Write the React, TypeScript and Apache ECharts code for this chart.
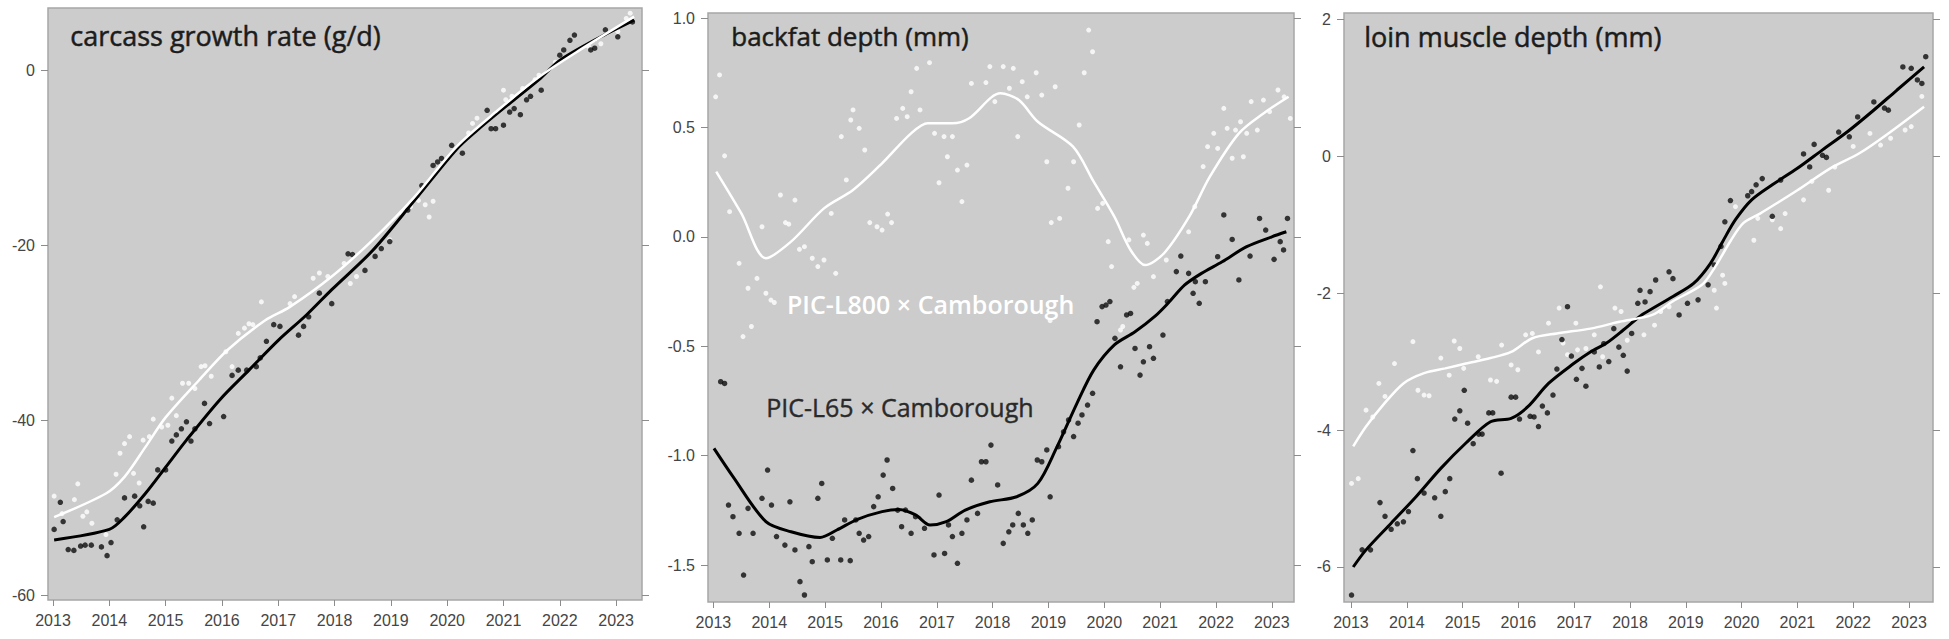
import React, { useEffect, useRef } from "react";
import * as echarts from "echarts";

// ---------- tick labels ----------
const yearTicks = [2013, 2014, 2015, 2016, 2017, 2018, 2019, 2020, 2021, 2022, 2023];
const cgrTicks = [-60, -40, -20, 0];
const bfTicks = [-1.5, -1.0, -0.5, 0.0, 0.5, 1.0];
const lmTicks = [-6, -4, -2, 0, 2];

// ---------- titles / labels ----------
const titles = ["carcass growth rate (g/d)", "backfat depth (mm)", "loin muscle depth (mm)"];
const labelL800 = "PIC-L800 × Camborough";
const labelL65 = "PIC-L65 × Camborough";

// ---------- carcass growth rate ----------
const cgrL65Pts = [
  [2013.02, -52.5], [2013.13, -49.4], [2013.18, -51.6], [2013.27, -54.8], [2013.37, -54.9], [2013.49, -54.4],
  [2013.57, -54.3], [2013.68, -54.3], [2013.86, -54.5], [2013.96, -55.5], [2014.03, -54.0], [2014.14, -51.4],
  [2014.27, -48.9], [2014.45, -48.7], [2014.54, -49.8], [2014.61, -52.2], [2014.69, -49.3], [2014.78, -49.5],
  [2014.86, -45.7], [2015.0, -45.7], [2015.11, -42.4], [2015.19, -41.7], [2015.28, -41.0], [2015.37, -40.2],
  [2015.45, -42.4], [2015.52, -41.0], [2015.69, -38.1], [2015.78, -40.4], [2016.03, -39.6], [2016.18, -34.9],
  [2016.29, -34.3], [2016.44, -34.3], [2016.61, -33.9], [2016.68, -32.9], [2016.79, -31.0], [2016.92, -29.1],
  [2017.03, -29.3], [2017.36, -30.3], [2017.45, -29.3], [2017.54, -28.2], [2017.73, -25.5], [2017.95, -26.7],
  [2018.24, -21.0], [2018.32, -21.1], [2018.54, -22.9], [2018.72, -21.3], [2018.83, -20.4], [2018.98, -19.6],
  [2019.3, -16.0], [2019.55, -13.2], [2019.75, -10.9], [2019.83, -10.5], [2019.9, -10.1], [2020.08, -8.6],
  [2020.27, -9.5], [2020.71, -4.6], [2020.78, -6.7], [2020.86, -6.7], [2021.0, -6.3], [2021.11, -4.8],
  [2021.19, -4.4], [2021.3, -5.1], [2021.41, -3.4], [2021.48, -3.0], [2021.67, -2.3], [2022.0, 1.7],
  [2022.07, 2.3], [2022.18, 3.4], [2022.26, 4.0], [2022.55, 2.3], [2022.62, 2.5], [2022.81, 4.6],
  [2023.03, 3.8], [2023.29, 5.5],
];
const cgrL800Pts = [
  [2013.02, -48.7], [2013.16, -50.7], [2013.38, -49.1], [2013.44, -47.3], [2013.53, -51.0], [2013.6, -50.5],
  [2013.69, -51.8], [2013.94, -53.1], [2014.12, -46.2], [2014.19, -43.8], [2014.27, -42.7], [2014.36, -41.9],
  [2014.43, -46.1], [2014.53, -47.2], [2014.6, -42.3], [2014.71, -41.9], [2014.78, -39.9], [2014.93, -40.8],
  [2015.04, -40.6], [2015.11, -37.5], [2015.19, -39.5], [2015.3, -35.8], [2015.41, -35.8], [2015.52, -36.4],
  [2015.63, -33.9], [2015.7, -33.8], [2015.81, -35.0], [2016.07, -32.2], [2016.18, -33.9], [2016.29, -30.1],
  [2016.4, -29.5], [2016.48, -29.0], [2016.55, -29.1], [2016.7, -26.5], [2017.21, -26.7], [2017.29, -25.9],
  [2017.62, -23.8], [2017.73, -23.2], [2017.88, -23.6], [2018.17, -22.1], [2018.28, -24.4], [2018.39, -23.6],
  [2018.98, -19.4], [2019.2, -16.4], [2019.35, -15.6], [2019.49, -14.9], [2019.61, -15.4], [2019.68, -16.8],
  [2019.75, -15.0], [2020.38, -7.2], [2020.45, -6.1], [2020.53, -5.5], [2021.0, -2.3], [2021.04, -3.4],
  [2021.15, -3.0], [2021.34, -2.1], [2021.56, -1.1], [2021.63, -0.6], [2021.92, 0.9], [2022.51, 2.7],
  [2022.73, 3.0], [2023.03, 4.4], [2023.18, 5.9], [2023.25, 6.5],
];
const cgrL65Trend = [
  [2013.02, -53.7], [2014.0, -52.5], [2014.27, -51.1], [2014.64, -48.4], [2015.0, -45.4], [2015.37, -42.3],
  [2015.96, -37.7], [2016.48, -34.3], [2017.0, -30.9], [2017.5, -28.0], [2017.95, -25.1], [2018.68, -20.6],
  [2019.42, -14.9], [2020.16, -9.1], [2020.53, -6.9], [2020.9, -4.9], [2021.63, -1.1], [2022.0, 1.1],
  [2022.73, 3.8], [2023.32, 5.7],
];
const cgrL800Trend = [
  [2013.02, -51.1], [2013.94, -48.4], [2014.27, -46.5], [2014.64, -43.1], [2015.0, -39.7], [2015.6, -35.4],
  [2016.1, -32.0], [2016.77, -28.6], [2017.2, -27.1], [2017.95, -23.6], [2018.68, -19.4], [2019.42, -14.5],
  [2020.16, -8.8], [2020.9, -4.6], [2021.63, -0.8], [2022.36, 2.3], [2023.32, 6.1],
];

// ---------- backfat depth ----------
const bfL65Pts = [
  [2013.13, -0.662], [2013.2, -0.67], [2013.27, -1.226], [2013.35, -1.279], [2013.46, -1.355], [2013.54, -1.546],
  [2013.62, -1.241], [2013.71, -1.355], [2013.87, -1.195], [2013.97, -1.066], [2014.04, -1.226], [2014.13, -1.37],
  [2014.28, -1.409], [2014.37, -1.211], [2014.46, -1.431], [2014.55, -1.576], [2014.63, -1.637], [2014.71, -1.416],
  [2014.77, -1.485], [2014.87, -1.195], [2014.94, -1.127], [2015.04, -1.477], [2015.13, -1.378], [2015.28, -1.477],
  [2015.35, -1.294], [2015.45, -1.48], [2015.55, -1.294], [2015.61, -1.355], [2015.69, -1.386], [2015.78, -1.37],
  [2015.87, -1.233], [2015.95, -1.188], [2016.04, -1.089], [2016.11, -1.02], [2016.21, -1.15], [2016.3, -1.249],
  [2016.37, -1.325], [2016.44, -1.249], [2016.54, -1.355], [2016.62, -1.279], [2016.78, -1.332], [2016.95, -1.454],
  [2017.04, -1.18], [2017.14, -1.447], [2017.21, -1.317], [2017.28, -1.37], [2017.37, -1.492], [2017.45, -1.355],
  [2017.54, -1.294], [2017.62, -1.112], [2017.73, -1.264], [2017.8, -1.028], [2017.88, -1.028], [2017.97, -0.952],
  [2018.09, -1.134], [2018.19, -1.401], [2018.29, -1.348], [2018.36, -1.317], [2018.46, -1.264], [2018.55, -1.317],
  [2018.63, -1.355], [2018.71, -1.294], [2018.8, -1.02], [2018.88, -1.028], [2018.97, -0.974], [2019.03, -1.188],
  [2019.18, -0.959], [2019.27, -0.891], [2019.36, -0.837], [2019.45, -0.913], [2019.53, -0.852], [2019.6, -0.814],
  [2019.7, -0.769], [2019.79, -0.715], [2019.87, -0.388], [2019.96, -0.319], [2020.03, -0.312], [2020.1, -0.296],
  [2020.19, -0.464], [2020.29, -0.594], [2020.4, -0.357], [2020.47, -0.35], [2020.55, -0.51], [2020.64, -0.632],
  [2020.7, -0.571], [2020.81, -0.502], [2020.88, -0.555], [2021.05, -0.449], [2021.13, -0.296], [2021.29, -0.159],
  [2021.37, -0.088], [2021.51, -0.167], [2021.59, -0.258], [2021.63, -0.205], [2021.7, -0.304], [2021.81, -0.205],
  [2022.03, -0.091], [2022.14, 0.1], [2022.29, -0.012], [2022.41, -0.197], [2022.61, -0.088], [2022.78, 0.084],
  [2022.89, 0.031], [2023.04, -0.103], [2023.15, -0.022], [2023.21, -0.06], [2023.28, 0.084],
];
const bfL800Pts = [
  [2013.04, 0.64], [2013.11, 0.74], [2013.2, 0.37], [2013.29, 0.115], [2013.46, -0.121], [2013.53, -0.456],
  [2013.62, -0.235], [2013.68, -0.41], [2013.78, -0.19], [2013.87, 0.046], [2013.94, -0.258], [2014.03, -0.289],
  [2014.09, -0.3], [2014.2, 0.191], [2014.29, 0.065], [2014.35, 0.058], [2014.46, 0.168], [2014.54, -0.057],
  [2014.63, -0.045], [2014.77, -0.098], [2014.87, -0.136], [2014.98, -0.106], [2015.11, 0.107], [2015.19, -0.167],
  [2015.29, 0.458], [2015.38, 0.26], [2015.46, 0.534], [2015.5, 0.58], [2015.61, 0.496], [2015.71, 0.397],
  [2015.8, 0.065], [2015.93, 0.046], [2016.02, 0.031], [2016.12, 0.104], [2016.19, 0.065], [2016.28, 0.541],
  [2016.39, 0.587], [2016.47, 0.549], [2016.54, 0.663], [2016.64, 0.77], [2016.7, 0.58], [2016.87, 0.796],
  [2016.96, 0.473], [2017.04, 0.247], [2017.13, 0.458], [2017.19, 0.366], [2017.28, 0.458], [2017.37, 0.305],
  [2017.45, 0.161], [2017.54, 0.328], [2017.62, 0.701], [2017.88, 0.705], [2017.95, 0.778], [2018.04, 0.618],
  [2018.19, 0.778], [2018.3, 0.679], [2018.37, 0.77], [2018.45, 0.458], [2018.53, 0.709], [2018.62, 0.64],
  [2018.78, 0.75], [2018.88, 0.648], [2018.97, 0.343], [2019.03, -0.383], [2019.05, 0.065], [2019.12, 0.686],
  [2019.2, 0.084], [2019.35, 0.222], [2019.45, 0.343], [2019.55, 0.511], [2019.64, 0.75], [2019.72, 0.945],
  [2019.79, 0.846], [2019.88, 0.13], [2019.97, 0.153], [2020.07, -0.022], [2020.13, -0.136], [2020.29, -0.426],
  [2020.33, -0.41], [2020.44, -0.014], [2020.53, -0.231], [2020.59, -0.213], [2020.7, 0.008], [2020.77, -0.03],
  [2020.88, -0.182], [2021.11, -0.106], [2021.51, 0.023], [2021.62, 0.138], [2021.77, 0.321], [2021.85, 0.412],
  [2021.96, 0.473], [2022.03, 0.404], [2022.14, 0.587], [2022.2, 0.496], [2022.29, 0.359], [2022.35, 0.488],
  [2022.44, 0.526], [2022.49, 0.366], [2022.55, 0.473], [2022.63, 0.618], [2022.74, 0.488], [2022.85, 0.625],
  [2022.96, 0.572], [2023.11, 0.671], [2023.22, 0.64], [2023.33, 0.541],
];
const bfL65Trend = [
  [2013.01, -0.967], [2013.35, -1.096], [2013.94, -1.302], [2014.39, -1.348], [2014.91, -1.374], [2015.21, -1.34],
  [2015.58, -1.291], [2016.02, -1.256], [2016.32, -1.246], [2016.62, -1.271], [2016.88, -1.317], [2017.17, -1.302],
  [2017.51, -1.249], [2017.95, -1.211], [2018.43, -1.188], [2018.81, -1.127], [2019.14, -0.967], [2019.51, -0.761],
  [2019.81, -0.609], [2020.18, -0.494], [2020.55, -0.434], [2020.92, -0.36], [2021.14, -0.304], [2021.44, -0.22],
  [2021.74, -0.167], [2022.11, -0.114], [2022.55, -0.045], [2023.0, 0.0], [2023.26, 0.023],
];
const bfL800Trend = [
  [2013.05, 0.298], [2013.5, 0.107], [2013.94, -0.098], [2014.39, -0.022], [2014.98, 0.13], [2015.5, 0.214],
  [2016.02, 0.336], [2016.54, 0.473], [2016.84, 0.519], [2017.28, 0.519], [2017.58, 0.542], [2018.14, 0.656],
  [2018.47, 0.625], [2018.81, 0.526], [2019.44, 0.412], [2019.81, 0.252], [2020.18, 0.092], [2020.47, -0.06],
  [2020.73, -0.129], [2021.07, -0.075], [2021.52, 0.092], [2021.89, 0.275], [2022.41, 0.473], [2022.85, 0.564],
  [2023.3, 0.64],
];

// ---------- loin muscle depth ----------
const lmL65Pts = [
  [2013.01, -6.41], [2013.2, -5.75], [2013.35, -5.75], [2013.52, -5.06], [2013.61, -5.26], [2013.72, -5.45],
  [2013.83, -5.37], [2013.94, -5.34], [2014.03, -5.19], [2014.11, -4.3], [2014.19, -4.71], [2014.31, -4.92],
  [2014.5, -4.99], [2014.61, -5.26], [2014.69, -4.9], [2014.77, -4.71], [2014.86, -3.84], [2014.95, -3.72],
  [2015.03, -3.42], [2015.09, -3.9], [2015.19, -4.2], [2015.29, -4.06], [2015.35, -4.06], [2015.47, -3.75],
  [2015.54, -3.75], [2015.69, -4.63], [2015.87, -3.52], [2015.95, -3.52], [2016.02, -3.84], [2016.21, -3.8],
  [2016.28, -3.81], [2016.36, -3.95], [2016.43, -3.65], [2016.52, -3.75], [2016.62, -3.49], [2016.69, -3.11],
  [2016.78, -2.68], [2016.88, -2.2], [2016.95, -2.92], [2017.04, -3.26], [2017.14, -3.1], [2017.21, -3.36],
  [2017.36, -2.86], [2017.45, -3.08], [2017.53, -2.74], [2017.62, -3.0], [2017.71, -2.52], [2017.8, -2.79],
  [2017.88, -2.91], [2017.95, -3.14], [2018.03, -2.59], [2018.14, -2.15], [2018.18, -1.96], [2018.27, -2.13],
  [2018.36, -1.98], [2018.46, -1.81], [2018.7, -1.69], [2018.77, -1.79], [2018.88, -2.32], [2019.03, -2.15],
  [2019.22, -2.1], [2019.4, -1.88], [2019.51, -1.59], [2019.63, -1.32], [2019.7, -0.96], [2019.8, -0.65],
  [2020.11, -0.58], [2020.18, -0.52], [2020.26, -0.42], [2020.37, -0.33], [2020.55, -0.88], [2020.7, -0.35],
  [2021.11, 0.03], [2021.22, -0.16], [2021.3, 0.17], [2021.45, 0.01], [2021.52, -0.02], [2021.74, 0.35],
  [2021.93, 0.28], [2022.08, 0.57], [2022.37, 0.79], [2022.56, 0.7], [2022.63, 0.67], [2022.89, 1.3],
  [2023.04, 1.28], [2023.15, 1.11], [2023.23, 1.06], [2023.3, 1.45],
];
const lmL800Pts = [
  [2013.01, -4.78], [2013.13, -4.71], [2013.27, -3.71], [2013.39, -3.81], [2013.5, -3.32], [2013.61, -3.51],
  [2013.78, -3.03], [2014.11, -2.71], [2014.2, -3.42], [2014.31, -3.49], [2014.4, -3.5], [2014.61, -2.95],
  [2014.76, -3.2], [2014.85, -2.7], [2014.95, -2.81], [2015.02, -3.1], [2015.28, -2.93], [2015.5, -3.27],
  [2015.61, -3.29], [2015.7, -2.76], [2015.87, -3.05], [2015.99, -3.12], [2016.13, -2.61], [2016.25, -2.59],
  [2016.36, -2.86], [2016.54, -2.44], [2016.73, -2.22], [2016.8, -2.73], [2016.88, -2.9], [2017.03, -2.44],
  [2017.06, -2.83], [2017.21, -2.81], [2017.36, -2.61], [2017.47, -1.91], [2017.51, -2.93], [2017.73, -2.22],
  [2017.84, -2.27], [2017.95, -2.69], [2018.25, -2.61], [2018.44, -2.47], [2018.55, -2.27], [2018.7, -2.2],
  [2019.51, -1.96], [2019.55, -2.22], [2019.66, -1.74], [2019.7, -1.86], [2019.89, -0.74], [2020.22, -1.23],
  [2020.29, -0.91], [2020.55, -0.93], [2020.7, -1.06], [2020.78, -0.84], [2021.11, -0.64], [2021.26, -0.37],
  [2021.56, -0.5], [2021.67, -0.16], [2022.0, 0.14], [2022.3, 0.33], [2022.49, 0.16], [2022.67, 0.26],
  [2022.93, 0.38], [2023.04, 0.43], [2023.23, 0.87],
];
const lmL65Trend = [
  [2013.04, -6.0], [2013.27, -5.75], [2013.72, -5.36], [2014.17, -4.97], [2014.61, -4.56], [2015.06, -4.19],
  [2015.5, -3.88], [2015.87, -3.83], [2016.17, -3.66], [2016.54, -3.32], [2016.99, -3.03], [2017.29, -2.86],
  [2017.58, -2.73], [2017.88, -2.54], [2018.1, -2.39], [2018.25, -2.3], [2018.77, -2.05], [2019.14, -1.86],
  [2019.44, -1.57], [2019.66, -1.25], [2019.89, -0.93], [2020.18, -0.64], [2020.55, -0.42], [2021.0, -0.18],
  [2021.45, 0.09], [2021.89, 0.35], [2022.34, 0.65], [2022.78, 0.96], [2023.27, 1.3],
];
const lmL800Trend = [
  [2013.04, -4.24], [2013.27, -3.95], [2013.57, -3.64], [2013.94, -3.32], [2014.31, -3.17], [2014.69, -3.1],
  [2015.06, -3.03], [2015.5, -2.95], [2015.87, -2.86], [2016.25, -2.66], [2016.69, -2.59], [2017.29, -2.52],
  [2017.81, -2.42], [2018.4, -2.32], [2018.77, -2.12], [2019.29, -1.88], [2019.51, -1.64], [2019.81, -1.23],
  [2020.03, -0.98], [2020.33, -0.84], [2020.63, -0.69], [2021.0, -0.5], [2021.59, -0.18], [2022.11, 0.04],
  [2022.63, 0.33], [2023.27, 0.72],
];

// ---------- layout ----------
const panels = [
  { left: 48, top: 8, width: 594, height: 592, xMin: 2012.911, xMax: 2023.46, yMin: -60.57, yMax: 7.09,
    yTicks: cgrTicks, dec: 0, l65: cgrL65Pts, l800: cgrL800Pts, t65: cgrL65Trend, t800: cgrL800Trend },
  { left: 708, top: 13, width: 586, height: 589, xMin: 2012.903, xMax: 2023.397, yMin: -1.669, yMax: 1.023,
    yTicks: bfTicks, dec: 1, l65: bfL65Pts, l800: bfL800Pts, t65: bfL65Trend, t800: bfL800Trend },
  { left: 1344, top: 13, width: 589, height: 589, xMin: 2012.875, xMax: 2023.43, yMin: -6.511, yMax: 2.088,
    yTicks: lmTicks, dec: 0, l65: lmL65Pts, l800: lmL800Pts, t65: lmL65Trend, t800: lmL800Trend },
];

const W = 1949;
const H = 639;
const axisFont = { fontFamily: "'Liberation Sans', Arial, sans-serif", fontSize: 16, color: "#454545" };
const tickColor = "#8c8c8c";

function buildOption() {
  const grid: any[] = [];
  const xAxis: any[] = [];
  const yAxis: any[] = [];
  const series: any[] = [];
  panels.forEach((p, i) => {
    const g = i * 2;
    // plotting grid
    grid.push({
      left: p.left, top: p.top, width: p.width, height: p.height,
      show: true, backgroundColor: "#cccccc", borderColor: "#a6a6a6", borderWidth: 1.5,
    });
    // overlay grid carrying only the right-hand ticks
    grid.push({ left: p.left, top: p.top, width: p.width, height: p.height, show: false });
    xAxis.push({
      type: "value", gridIndex: g, min: p.xMin, max: p.xMax,
      axisLine: { show: false, onZero: false },
      axisTick: { show: true, length: 6, lineStyle: { color: tickColor }, customValues: yearTicks },
      axisLabel: { ...axisFont, margin: 12, customValues: yearTicks, formatter: (v: number) => String(Math.round(v)) },
      splitLine: { show: false },
    });
    xAxis.push({
      type: "value", gridIndex: g + 1, min: p.xMin, max: p.xMax, show: false,
    });
    yAxis.push({
      type: "value", gridIndex: g, min: p.yMin, max: p.yMax,
      axisLine: { show: false, onZero: false },
      axisTick: { show: true, length: 7, lineStyle: { color: tickColor }, customValues: p.yTicks },
      axisLabel: { ...axisFont, margin: 13, customValues: p.yTicks, formatter: (v: number) => v.toFixed(p.dec) },
      splitLine: { show: false },
    });
    yAxis.push({
      type: "value", gridIndex: g + 1, min: p.yMin, max: p.yMax, position: "right",
      axisLine: { show: false, onZero: false },
      axisTick: { show: true, length: 7, lineStyle: { color: tickColor }, customValues: p.yTicks },
      axisLabel: { show: false },
      splitLine: { show: false },
    });
    series.push({
      type: "scatter", xAxisIndex: g, yAxisIndex: g, data: p.l800, symbol: "circle", symbolSize: 5,
      itemStyle: { color: "#ffffff" }, silent: true,
    });
    series.push({
      type: "scatter", xAxisIndex: g, yAxisIndex: g, data: p.l65, symbol: "circle", symbolSize: 5.5,
      itemStyle: { color: "#0d0d0d" }, silent: true,
    });
    series.push({
      type: "line", xAxisIndex: g, yAxisIndex: g, data: p.t65, smooth: 0.3, showSymbol: false, symbol: "none",
      lineStyle: { color: "#000000", width: 3 }, silent: true,
    });
    series.push({
      type: "line", xAxisIndex: g, yAxisIndex: g, data: p.t800, smooth: 0.3, showSymbol: false, symbol: "none",
      lineStyle: { color: "#ffffff", width: 2.5 }, silent: true,
    });
  });

  const titleFont = "'Open Sans', 'Noto Sans', sans-serif";
  const dark = { fill: "#1c1c1c", stroke: "#1c1c1c", lineWidth: 0.5 };
  const graphic = [
    { type: "text", left: 70, top: 22, z: 100, style: { text: titles[0], font: `27px ${titleFont}`, ...dark } },
    { type: "text", left: 731, top: 23, z: 100, style: { text: titles[1], font: `26px ${titleFont}`, ...dark } },
    { type: "text", left: 1364, top: 23, z: 100, style: { text: titles[2], font: `27px ${titleFont}`, ...dark } },
    { type: "text", left: 787, top: 291, z: 100, style: { text: labelL800, font: `600 25px ${titleFont}`, fill: "#ffffff" } },
    { type: "text", left: 766, top: 394, z: 100, style: { text: labelL65, font: `25px ${titleFont}`, fill: "#2a2a2a", stroke: "#2a2a2a", lineWidth: 0.4 } },
  ];

  return { animation: false, backgroundColor: "#ffffff", grid, xAxis, yAxis, series, graphic };
}

export default function App() {
  const ref = useRef<HTMLDivElement>(null);
  useEffect(() => {
    if (!ref.current) return;
    const chart = echarts.init(ref.current, null, { renderer: "svg" });
    chart.setOption(buildOption());
    return () => chart.dispose();
  }, []);
  return <div ref={ref} style={{ position: "absolute", left: 0, top: 0, width: W, height: H }} />;
}
